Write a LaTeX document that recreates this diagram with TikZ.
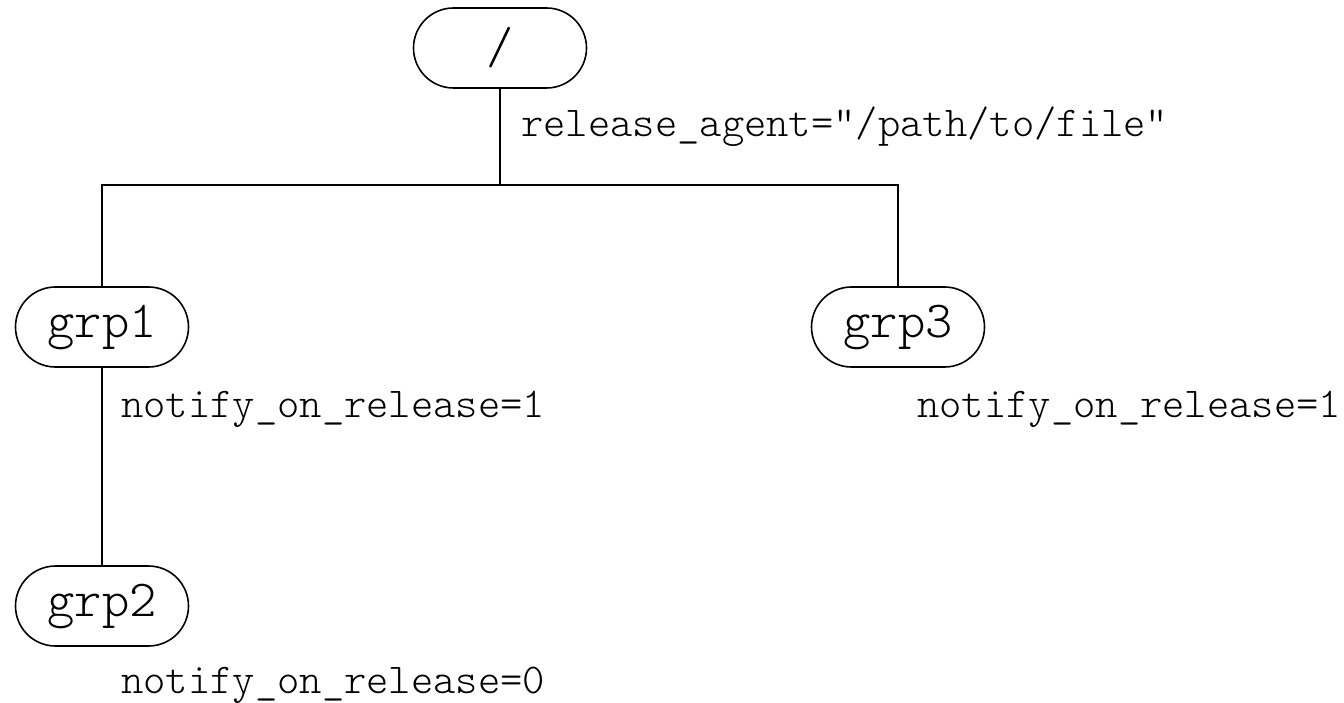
\documentclass[tikz,border=0pt]{standalone}
\usepackage{fontspec}
\setmonofont{Latin Modern Mono Light}
\begin{document}
\begin{tikzpicture}[x=1pt,y=-1pt,
  grp/.style={draw, line width=1.6pt, rounded corners=40pt, minimum width=173pt, minimum height=80pt, inner sep=0pt, font=\fontsize{52}{56}\selectfont\ttfamily},
  lbl/.style={anchor=base west, inner sep=0pt, font=\fontsize{42.5}{46}\selectfont\ttfamily},
  conn/.style={line width=1.6pt}]
\useasboundingbox (0,0) rectangle (1344,703);
\node[grp] (root) at (500,48) {/};
\node[grp] (g1) at (102,327) {grp1};
\node[grp] (g3) at (898,327) {grp3};
\node[grp] (g2) at (102,606) {grp2};
\coordinate (j) at (500,185);
\draw[conn] (root.south) -- (j);
\draw[conn] (j) -| (g1.north);
\draw[conn] (j) -| (g3.north);
\draw[conn] (g1.south) -- (g2.north);
\node[lbl] (l0) at (521,137) {release\_agent="/path/to/file"};
\node[lbl] (l1) at (121,417) {notify\_on\_release=1};
\node[lbl] (l3) at (917,417) {notify\_on\_release=1};
\node[lbl] (l2) at (121,693) {notify\_on\_release=0};
\end{tikzpicture}
\end{document}
